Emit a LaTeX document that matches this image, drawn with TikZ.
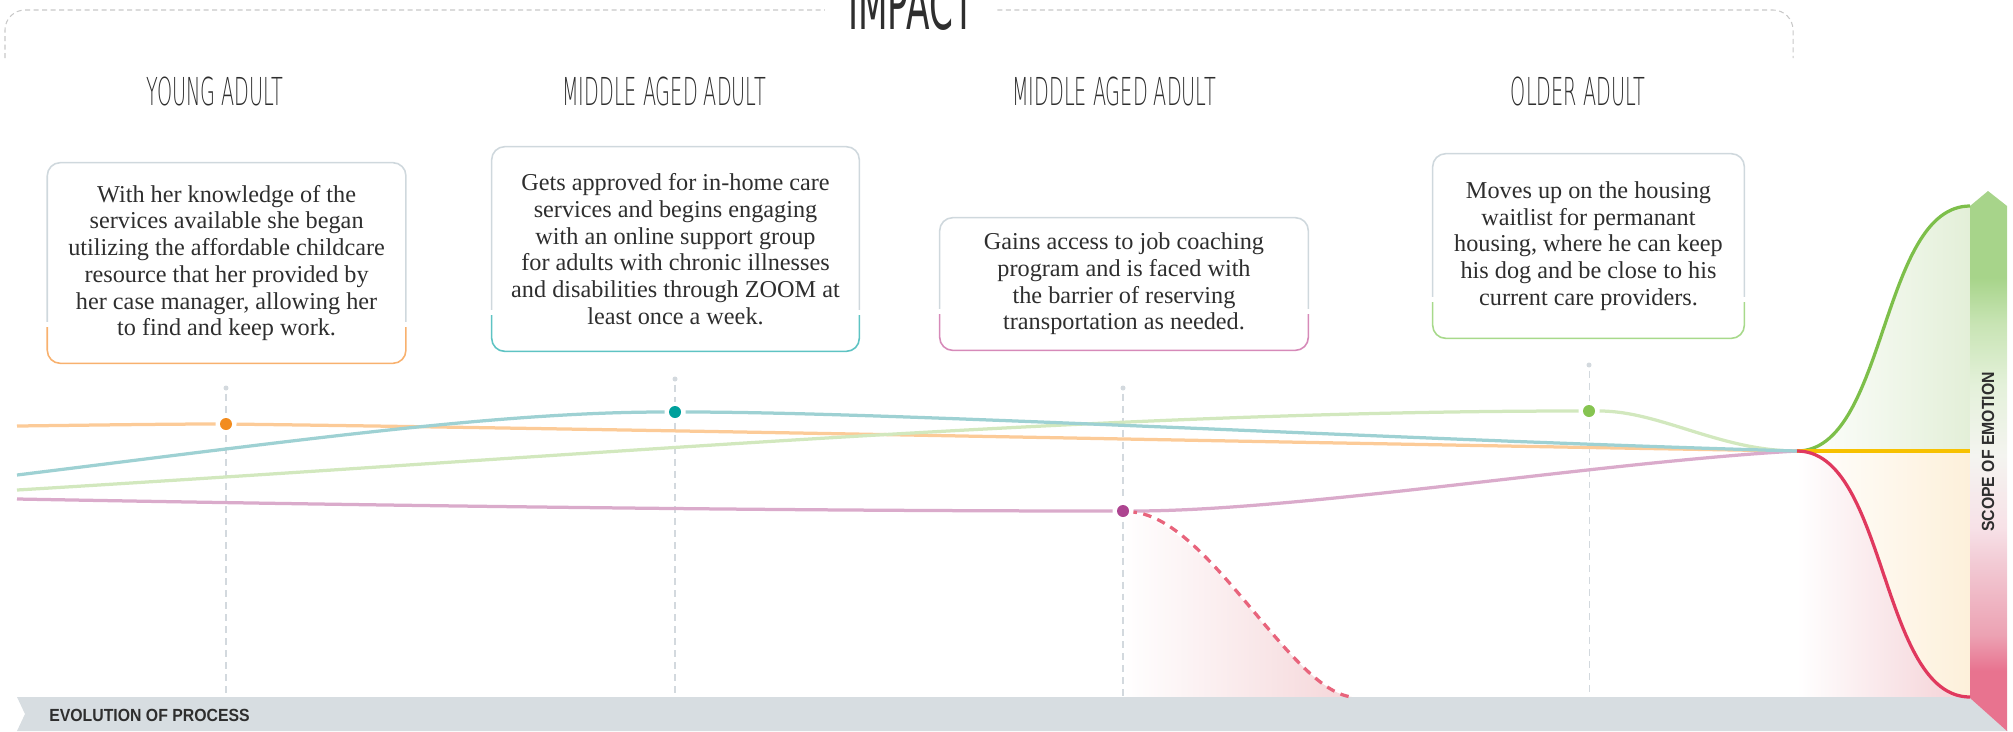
\documentclass[tikz,border=0pt]{standalone}
\usepackage{fontspec}
\setmainfont{Liberation Serif}
\newfontfamily\stagefont[FakeStretch=0.5]{DejaVu Sans ExtraLight}
\newfontfamily\titlefont[FakeStretch=0.5]{DejaVu Sans}
\newfontfamily\tagfont[FakeStretch=0.9]{Liberation Sans}
\usetikzlibrary{calc}

\definecolor{inktext}{HTML}{2E2E2E}
\definecolor{guidegray}{HTML}{D3D9DE}
\definecolor{bracketgray}{HTML}{C8C8C8}
\definecolor{cardgray}{HTML}{CFD8DD}
\definecolor{bandgray}{HTML}{D7DDE1}
\definecolor{youngln}{HTML}{FCCB98}
\definecolor{youngdot}{HTML}{F28C1F}
\definecolor{youngedge}{HTML}{F8B16E}
\definecolor{midaln}{HTML}{9ED1D3}
\definecolor{midadot}{HTML}{00A09C}
\definecolor{midaedge}{HTML}{5EC3C3}
\definecolor{midbln}{HTML}{DAABCB}
\definecolor{midbdot}{HTML}{AD4490}
\definecolor{midbedge}{HTML}{D68AB9}
\definecolor{olderln}{HTML}{D2E8BE}
\definecolor{olderdot}{HTML}{86C451}
\definecolor{olderedge}{HTML}{A7D98B}
\definecolor{riseln}{HTML}{7DBF4A}
\definecolor{fallln}{HTML}{E0395E}
\definecolor{levelln}{HTML}{F7C100}
\definecolor{dropln}{HTML}{E8647C}
\definecolor{riselight}{HTML}{E3EFD8}
\definecolor{falllight}{HTML}{F4D0D5}
\definecolor{levellight}{HTML}{FDF0DA}
\definecolor{droplight}{HTML}{F5D6D9}
\definecolor{barpink}{HTML}{E8738F}
\definecolor{barrose}{HTML}{ECA2B3}
\definecolor{barblush}{HTML}{F2CAD4}
\definecolor{barpale}{HTML}{F7E1E7}
\definecolor{barmist}{HTML}{F4F4F0}
\definecolor{barsage}{HTML}{E4F1DA}
\definecolor{barleaf}{HTML}{C8E4B4}
\definecolor{bargreen}{HTML}{A7D48A}

% emotion scale, green on top and pink at the foot
\pgfdeclareverticalshading{emotionbar}{100bp}{color(0bp)=(barpink); color(30.6bp)=(barpink);
  color(33.9bp)=(barrose); color(40.5bp)=(barblush); color(43.8bp)=(barpale);
  color(50.5bp)=(barmist); color(57bp)=(barsage); color(62.7bp)=(barleaf);
  color(67bp)=(bargreen); color(100bp)=(bargreen)}

\newcommand\cardfont{\fontsize{13.8}{15.2}\selectfont}

% grey rim on top, coloured rim at the foot of a card
\newcommand\cardedge[2]{%
  \begin{scope}
    \clip ($(#1.north west)+(-5,-5)$) rectangle ($(#1.south east)+(5,-42)$);
    \draw[cardgray, line width=0.9pt, rounded corners=0.26cm] (#1.north west) rectangle (#1.south east);
  \end{scope}
  \begin{scope}
    \clip ($(#1.south west)+(-5,-36)$) rectangle ($(#1.south east)+(5,5)$);
    \draw[#2, line width=0.9pt, rounded corners=0.26cm] (#1.north west) rectangle (#1.south east);
  \end{scope}}

\tikzset{
  card/.style={align=center, inner sep=0pt, text=inktext, font=\cardfont},
  stage/.style={text=inktext, inner sep=0pt, font=\stagefont\fontsize{21.9}{24}\selectfont},
  tag/.style={text=inktext, inner sep=0pt, font=\tagfont\bfseries\fontsize{10}{12}\selectfont},
  moment/.style={circle, fill=#1, inner sep=0pt, minimum size=0.24cm, outer sep=0.09cm},
  guidetip/.style={circle, fill=guidegray, inner sep=0pt, minimum size=0.1cm, outer sep=0.06cm},
  guide/.style={draw=guidegray, line width=0.6pt, dash pattern=on 0.14cm off 0.1cm},
  journey/.style={draw=#1, line width=0.065cm},
  bracket/.style={draw=bracketgray, line width=0.6pt, dash pattern=on 0.1cm off 0.07cm, rounded corners=0.4cm}
}

\begin{document}
\begin{tikzpicture}[x=0.02cm,y=-0.02cm]
  \useasboundingbox (0,0) rectangle (2013,731);

  \coordinate (meet) at (1797,451);
  \coordinate (peak) at (1970,206);
  \coordinate (level) at (1970,451);
  \coordinate (floor) at (1970,697);
  \coordinate (drop) at (1352,697);

  % tinted areas at the right end
  \shade[left color=white, right color=levellight] (meet) rectangle (floor);
  \shade[left color=white, right color=riselight] (meet) .. controls (1887,451) and (1880,206) .. (peak) -- (level) -- cycle;
  \shade[left color=white, right color=falllight] (meet) .. controls (1887,451) and (1880,697) .. (floor) -- (1797,697) -- cycle;
  \shade[left color=white, right color=droplight] (1123,511) .. controls (1210,520) and (1290,690) .. (drop) -- (1123,697) -- cycle;

  % bottom band and emotion bar
  \fill[bandgray] (17,697) -- (1970,697) -- (2008,731) -- (17,731) -- (25,714) -- cycle;
  \shade[shading=emotionbar] (1970,206) -- (1988,191) -- (2007,206) -- (2007,731) -- (1970,698) -- cycle;
  \node[tag, anchor=west] (evolution) at (49,715) {EVOLUTION OF PROCESS};
  \node[tag, rotate=90] (scope) at (1988,452) {SCOPE OF EMOTION};

  % moments and their guides
  \node[moment=youngdot] (ya) at (226,424) {};
  \node[moment=midadot] (ma) at (675,412) {};
  \node[moment=midbdot] (mb) at (1123,511) {};
  \node[moment=olderdot] (oa) at (1589,411) {};
  \node[guidetip] (yatip) at (226,388) {};
  \node[guidetip] (matip) at (675,379) {};
  \node[guidetip] (mbtip) at (1123,388) {};
  \node[guidetip] (oatip) at (1589,365) {};
  \draw[guide] (yatip) -- (ya) -- (226,697);
  \draw[guide] (matip) -- (ma) -- (675,697);
  \draw[guide] (mbtip) -- (mb) -- (1123,697);
  \draw[guide] (oatip) -- (oa) -- (1589,697);

  % journeys
  \coordinate (yastart) at (17,426);
  \coordinate (mastart) at (17,475);
  \coordinate (mbstart) at (17,499);
  \coordinate (oastart) at (17,490);
  \draw[journey=youngln] (yastart) .. controls (100,425) and (170,424) .. (ya) .. controls (700,430) and (1300,443) .. (meet);
  \draw[journey=olderln] (oastart) .. controls (600,455) and (1100,411) .. (oa) .. controls (1660,411) and (1720,451) .. (meet);
  \draw[journey=midbln] (mbstart) .. controls (400,506) and (800,511) .. (mb) .. controls (1300,511) and (1600,462) .. (meet);
  \draw[journey=midaln] (mastart) .. controls (300,440) and (500,412) .. (ma) .. controls (900,412) and (1400,440) .. (meet);
  \draw[journey=dropln, dash pattern=on 0.17cm off 0.13cm, dash phase=0.1cm] (mb) .. controls (1210,520) and (1290,690) .. (drop);

  \draw[journey=riseln] (meet) .. controls (1887,451) and (1880,206) .. (peak);
  \draw[journey=levelln] (meet) -- (level);
  \draw[journey=fallln] (meet) .. controls (1887,451) and (1880,697) .. (floor);

  % cards
  \node[card, minimum width=7.16cm, minimum height=4cm] (yacard) at (226.6,263) {With her knowledge of the\\
    services available she began\\ utilizing the affordable childcare\\ resource that her provided by\\
    her case manager, allowing her\\ to find and keep work.};
  \node[card, minimum width=7.34cm, minimum height=4.08cm] (macard) at (675.5,249) {Gets approved for in-home care\\
    services and begins engaging\\ with an online support group\\ for adults with chronic illnesses\\
    and disabilities through ZOOM at\\ least once a week.};
  \node[card, minimum width=7.36cm, minimum height=2.64cm] (mbcard) at (1124,284) {Gains access to job coaching\\
    program and is faced with\\ the barrier of reserving\\ transportation as needed.};
  \node[card, minimum width=6.22cm, minimum height=3.68cm] (oacard) at (1588.5,246) {Moves up on the housing\\
    waitlist for permanant\\ housing, where he can keep\\ his dog and be close to his\\ current care providers.};
  \cardedge{yacard}{youngedge}
  \cardedge{macard}{midaedge}
  \cardedge{mbcard}{midbedge}
  \cardedge{oacard}{olderedge}

  % stages
  \node[stage] (yahead) at (215,91) {YOUNG ADULT};
  \node[stage] (mahead) at (664,91) {MIDDLE AGED ADULT};
  \node[stage] (mbhead) at (1114,91) {MIDDLE AGED ADULT};
  \node[stage] (oahead) at (1578,91) {OLDER ADULT};

  \node[stage, anchor=base, inner xsep=0.46cm, font=\titlefont\fontsize{39}{42}\selectfont] (impact) at (911,29) {IMPACT};
  \draw[bracket] (5,58) -- (5,10) -- (impact.west |- 0,10);
  \draw[bracket] (impact.east |- 0,10) -- (1793,10) -- (1793,58);
\end{tikzpicture}
\end{document}
